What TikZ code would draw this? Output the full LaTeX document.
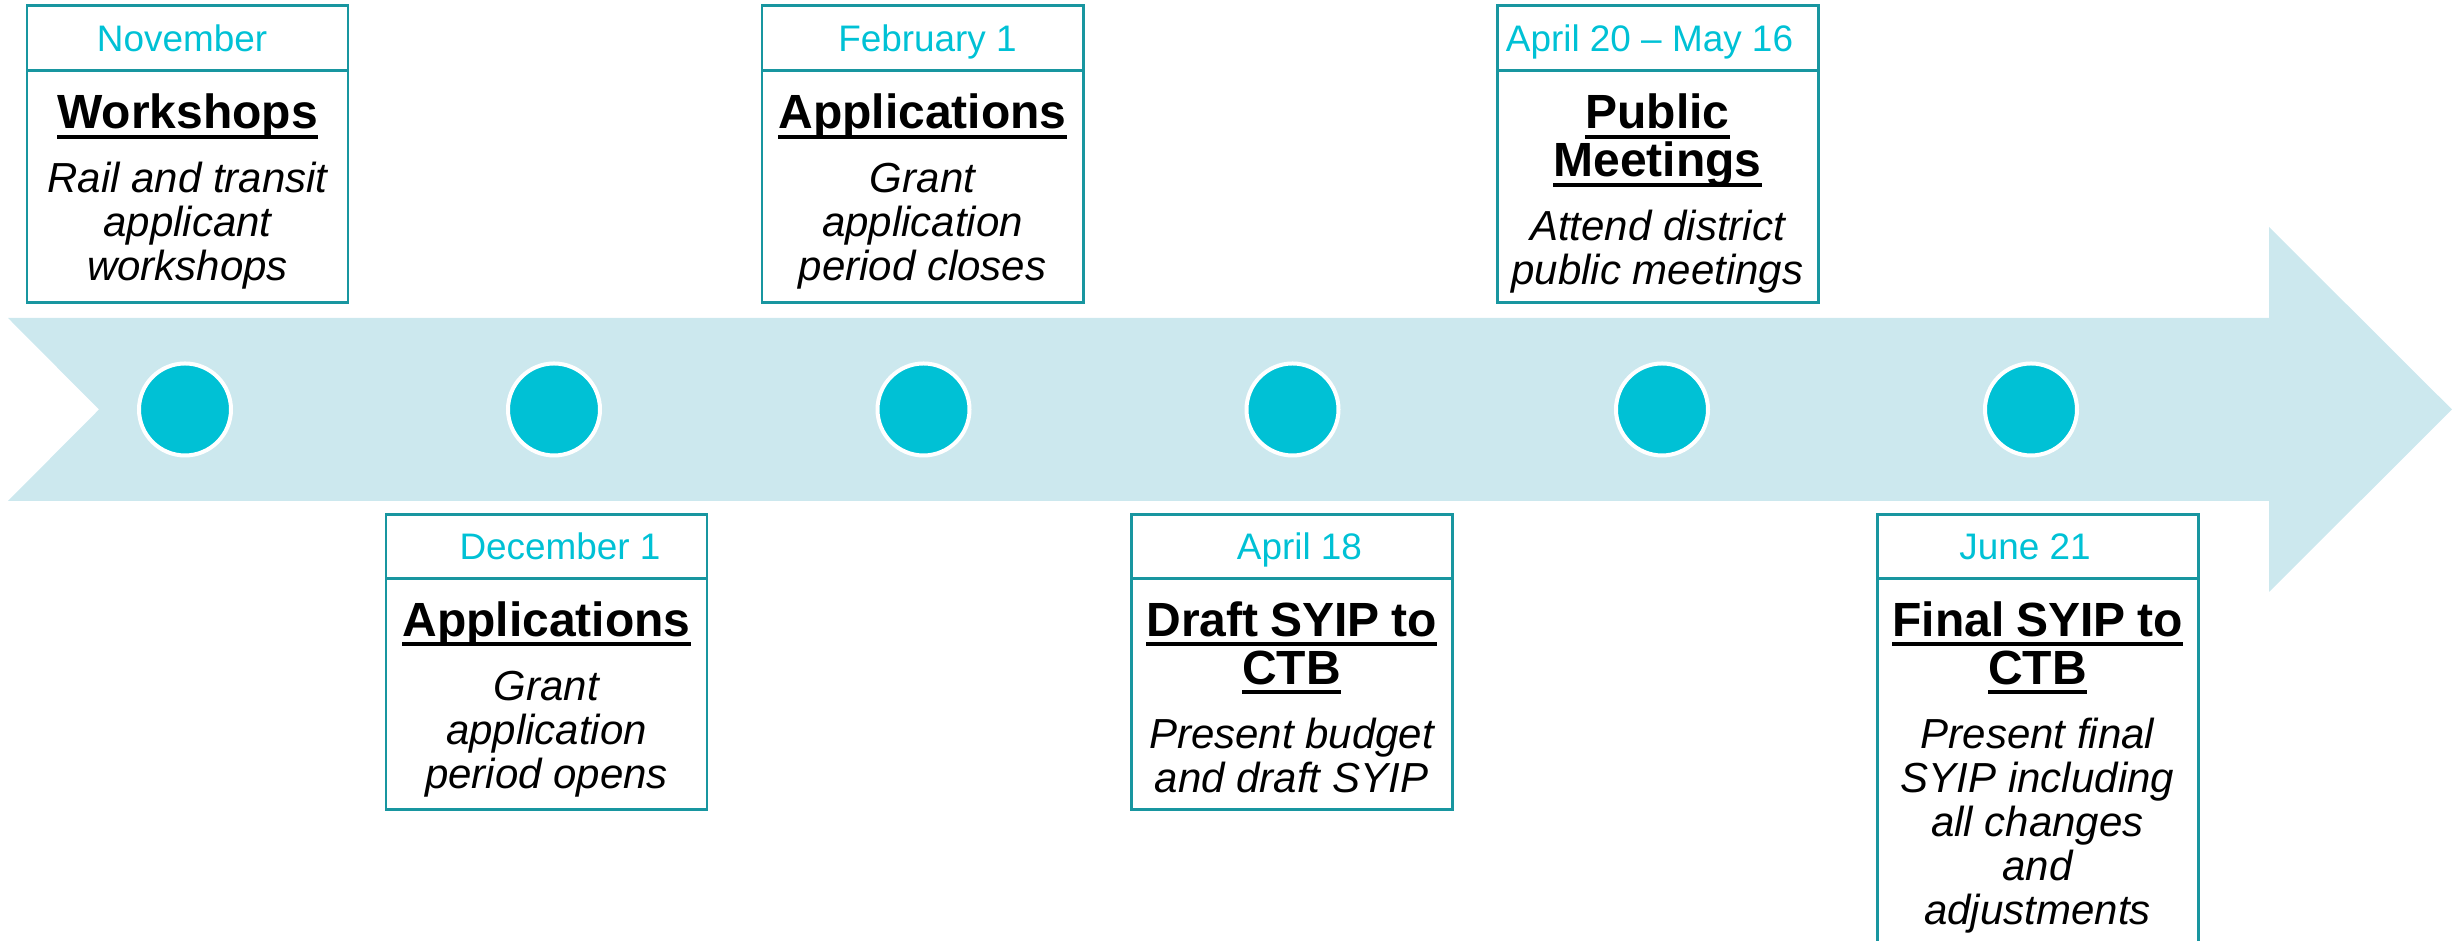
\documentclass[tikz,border=0pt]{standalone}
\usepackage{fontspec}
\setmainfont{Liberation Sans}
\usepackage{xcolor}
\usepackage{tikz}

\definecolor{bandblue}{RGB}{204,232,238}
\definecolor{dotcyan}{RGB}{0,193,213}
\definecolor{boxteal}{RGB}{24,150,160}

\newsavebox{\ttlbox}
\newcommand{\ttl}[1]{\leavevmode\sbox{\ttlbox}{#1}%
  \rlap{\rule[-2.8pt]{\wd\ttlbox}{1.15pt}}\usebox{\ttlbox}}
\newcommand{\ttlfont}{\bfseries\fontsize{13.66}{13.66}\selectfont}
\newcommand{\descfont}{\itshape\fontsize{11.95}{12.5}\selectfont}

\tikzset{
  boxline/.style={draw=boxteal, line width=0.85pt},
  dot/.style={circle, fill=dotcyan, draw=white, line width=1.14pt, minimum size=9.2mm, inner sep=0pt},
  datetext/.style={anchor=base, inner sep=0pt, text=dotcyan, font=\fontsize{10.5}{12}\selectfont},
  bodytext/.style={anchor=base, inner sep=0pt, text width=31mm, align=center}
}

\begin{document}
\begin{tikzpicture}[x=0.1mm, y=0.1mm]
    \useasboundingbox (0,0) rectangle (2453,941);
    \clip (0,0) rectangle (2453,941);

    % Timeline arrow
    \fill[bandblue] (8,623) -- (2269,623) -- (2269,714) -- (2452,531.5)
        -- (2269,349) -- (2269,440) -- (8,440) -- (99,531.5) -- cycle;

    % Milestone dots
    \node[dot] (dot1) at (185,531.5) {};
    \node[dot] (dot2) at (554,531.5) {};
    \node[dot] (dot3) at (923.5,531.5) {};
    \node[dot] (dot4) at (1292.5,531.5) {};
    \node[dot] (dot5) at (1662,531.5) {};
    \node[dot] (dot6) at (2031,531.5) {};

    % November
    \draw[boxline] (27,638) rectangle (348,935);
    \draw[boxline] (27,870) -- (348,870);
    \node[datetext] (nov) at (182,889.5) {November};
    \node[bodytext] (nov-body) at (187.5,812)
        {{\ttlfont\ttl{Workshops}\par}\vspace{5.7pt}%
         {\descfont Rail and transit\\applicant\\workshops\par}};

    % December 1
    \draw[boxline] (386,131) rectangle (707,426);
    \draw[boxline] (386,362.5) -- (707,362.5);
    \node[datetext] (dec) at (560,381.5) {December 1};
    \node[bodytext] (dec-body) at (546.5,304.5)
        {{\ttlfont\ttl{Applications}\par}\vspace{5.7pt}%
         {\descfont Grant\\application\\period opens\par}};

    % February 1
    \draw[boxline] (762,638) rectangle (1083,935);
    \draw[boxline] (762,870) -- (1083,870);
    \node[datetext] (feb) at (927.5,889.5) {February 1};
    \node[bodytext] (feb-body) at (922.5,812)
        {{\ttlfont\ttl{Applications}\par}\vspace{5.7pt}%
         {\descfont Grant\\application\\period closes\par}};

    % April 18
    \draw[boxline] (1131,131) rectangle (1452,426);
    \draw[boxline] (1131,362.5) -- (1452,362.5);
    \node[datetext] (apr) at (1299.5,381.5) {April 18};
    \node[bodytext] (apr-body) at (1291.5,304.5)
        {{\ttlfont\ttl{Draft SYIP to}\\\ttl{CTB}\par}\vspace{5.7pt}%
         {\descfont Present budget\\and draft SYIP\par}};

    % April 20 - May 16
    \draw[boxline] (1497,638) rectangle (1818,935);
    \draw[boxline] (1497,870) -- (1818,870);
    \node[datetext] (may) at (1649.5,889.5) {April 20 – May 16};
    \node[bodytext] (may-body) at (1657.5,812)
        {{\ttlfont\ttl{Public}\\\ttl{Meetings}\par}\vspace{5.7pt}%
         {\descfont Attend district\\public meetings\par}};

    % June 21, runs off the bottom
    \draw[boxline] (1877,-60) rectangle (2198,426);
    \draw[boxline] (1877,362.5) -- (2198,362.5);
    \node[datetext] (jun) at (2025,381.5) {June 21};
    \node[bodytext] (jun-body) at (2037.5,304.5)
        {{\ttlfont\ttl{Final SYIP to}\\\ttl{CTB}\par}\vspace{5.7pt}%
         {\descfont Present final\\SYIP including\\all changes\\and\\adjustments\par}};
\end{tikzpicture}
\end{document}
